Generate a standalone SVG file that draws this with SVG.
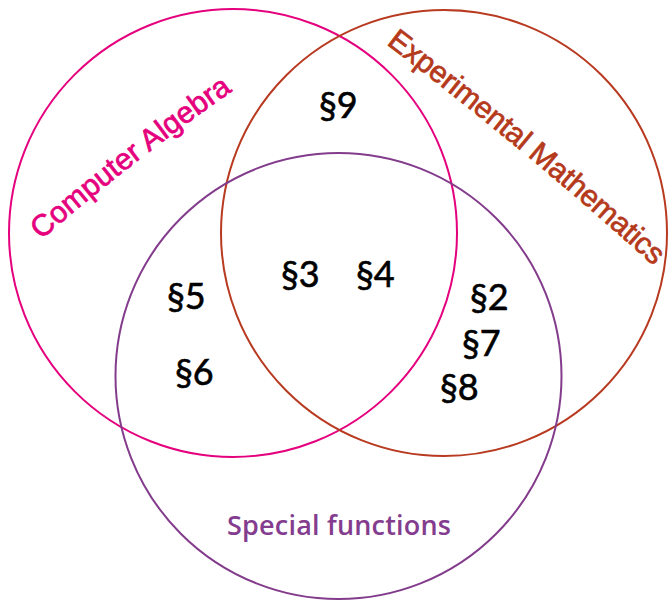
<svg xmlns="http://www.w3.org/2000/svg" width="668" height="601" viewBox="0 0 668 601">
  <style>
    .c { fill: none; stroke-width: 2; }
    .num { font-family: Lato, "Open Sans", sans-serif; font-size: 36px; fill: #000; stroke: #000; stroke-width: 0.6; }
    .lbl { font-family: "Liberation Sans", Arial, sans-serif; font-size: 30px; stroke-width: 0.7; }
  </style>
  <defs>
    <path id="pCA" d="M 41 240 Q 135 159 234 90"/>
    <path id="pEM" d="M 386 44 Q 526 150 656 268"/>
  </defs>
  <rect width="668" height="601" fill="#fff"/>
  <g id="computer-algebra">
    <circle class="c" cx="233" cy="233" r="224" stroke="#e5007d"/>
    <text class="lbl" fill="#e5007d" stroke="#e5007d"><textPath href="#pCA" textLength="243" lengthAdjust="spacing">Computer Algebra</textPath></text>
  </g>
  <g id="experimental-mathematics">
    <circle class="c" cx="444" cy="233" r="223" stroke="#b83a20"/>
    <text class="lbl" fill="#b5391b" stroke="#b5391b"><textPath href="#pEM" textLength="348" lengthAdjust="spacing">Experimental Mathematics</textPath></text>
  </g>
  <g id="special-functions">
    <circle class="c" cx="338.5" cy="376" r="223" stroke="#833c8c"/>
    <text x="227" y="535" textLength="224" lengthAdjust="spacing" font-family="'Open Sans', sans-serif" font-weight="600" font-size="27" fill="#843d8e">Special functions</text>
  </g>
  <g id="sections">
    <text class="num" x="319" y="118">§9</text>
    <text class="num" x="281" y="287">§3</text>
    <text class="num" x="356" y="287">§4</text>
    <text class="num" x="167" y="309">§5</text>
    <text class="num" x="175" y="385">§6</text>
    <text class="num" x="470" y="310">§2</text>
    <text class="num" x="462" y="356">§7</text>
    <text class="num" x="440" y="400">§8</text>
  </g>
</svg>
